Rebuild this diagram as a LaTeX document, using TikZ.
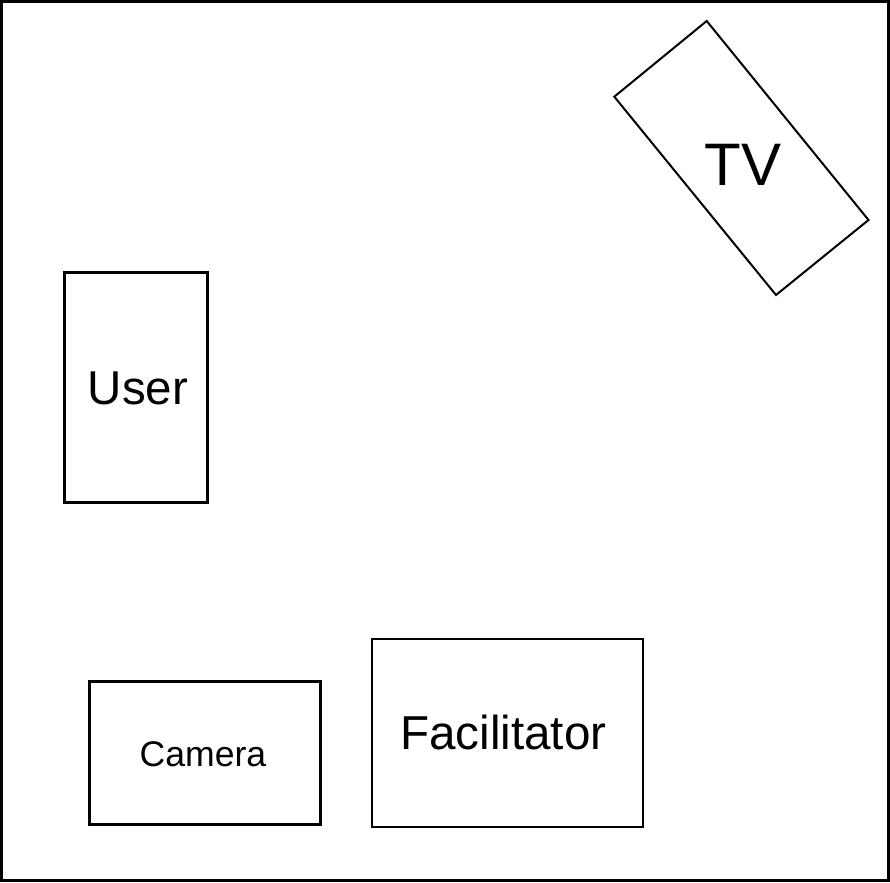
\documentclass[tikz,border=0pt]{standalone}
\usepackage{fontspec}
\setmainfont{Liberation Sans}
\begin{document}
\begin{tikzpicture}[x=1pt,y=-1pt,
  box/.style={draw=black,line width=3pt},
  thinbox/.style={draw=black,line width=2pt},
  lbl/.style={anchor=base,inner sep=0pt,text=black}]
\useasboundingbox (0,0) rectangle (890,882);
\fill[white] (0,0) rectangle (890,882);
\draw[line width=2.6pt] (1.3,1.3) rectangle (888.2,880.5);
% User
\draw[box] (64,272.3) rectangle (207.3,502);
\node[lbl,font=\fontsize{47.5}{52}\selectfont] (user) at (138,404) {User};
% Camera
\draw[box] (89.9,681.5) rectangle (320.8,824.5);
\node[lbl,font=\fontsize{35.6}{40}\selectfont] (camera) at (203,766.7) {Camera};
% Facilitator
\draw[thinbox] (371.6,639.3) rectangle (642.6,826.7);
\node[lbl,font=\fontsize{47.6}{52}\selectfont] (facilitator) at (503.3,749.3) {Facilitator};
% TV
\draw[thinbox,line join=miter] (614.3,96.7) -- (706.7,21) -- (868.5,220) -- (776,295) -- cycle;
\node[lbl,font=\fontsize{60}{66}\selectfont] (tv) at (743.3,185.7) {TV};
\end{tikzpicture}
\end{document}
